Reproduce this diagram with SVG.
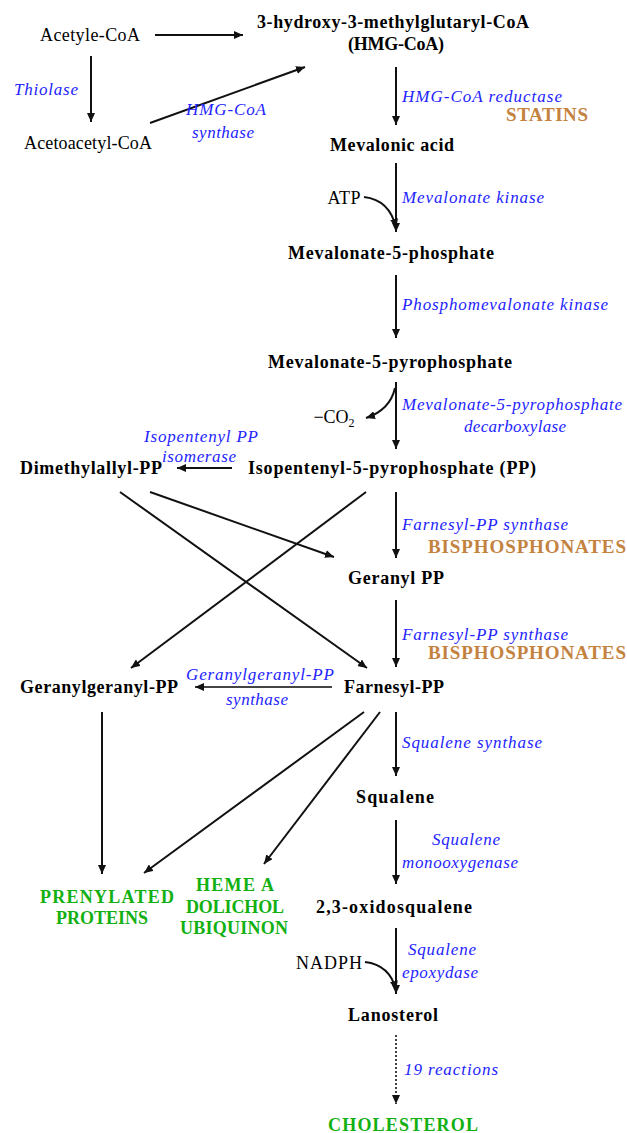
<svg xmlns="http://www.w3.org/2000/svg" width="627" height="1133" viewBox="0 0 627 1133">
<style>
text{font-family:"Liberation Serif","Times New Roman",serif;}
.n{font-size:18px;fill:#000;text-anchor:middle;}
.b{font-size:18px;font-weight:bold;fill:#000;text-anchor:middle;}
.e{font-size:17px;font-style:italic;fill:#2323ff;}
.c{text-anchor:middle;}
.s{font-size:19px;font-weight:bold;fill:#c4823f;}
.g{font-size:18px;font-weight:bold;fill:#12b012;text-anchor:middle;}
.ln{stroke:#111;stroke-width:2;fill:none;marker-end:url(#ah);}
.gr{stroke:#444;}
.dot{stroke:#444;stroke-width:2;stroke-dasharray:2,2;fill:none;marker-end:url(#ah);}
</style>
<defs>
<marker id="ah" markerUnits="userSpaceOnUse" markerWidth="10" markerHeight="8" refX="9" refY="4" orient="auto">
<path d="M0,0 L9,4 L0,8 Z" fill="#111"/>
</marker>
</defs>
<rect width="627" height="1133" fill="#fff"/>
<g id="connectors">
<line class="ln" x1="155" y1="35" x2="243" y2="35"/>
<line class="ln" x1="91" y1="56" x2="91" y2="122"/>
<line class="ln" x1="150" y1="123" x2="305" y2="67"/>
<line class="ln" x1="396" y1="67" x2="396" y2="125"/>
<line class="ln" x1="396" y1="163" x2="396" y2="232"/>
<path class="ln" d="M364,197 Q390,200 396,228"/>
<line class="ln" x1="396" y1="275" x2="396" y2="338"/>
<line class="ln" x1="396" y1="382" x2="396" y2="449"/>
<path class="ln" d="M395,388 Q390,410 366,418"/>
<line class="ln" x1="232" y1="468" x2="177" y2="468"/>
<line class="ln" x1="120" y1="492" x2="367" y2="668"/>
<line class="ln" x1="150" y1="492" x2="334" y2="557"/>
<line class="ln" x1="366" y1="492" x2="131" y2="668"/>
<line class="ln" x1="396" y1="492" x2="396" y2="558"/>
<line class="ln" x1="396" y1="600" x2="396" y2="667"/>
<line class="ln gr" x1="332" y1="687" x2="195" y2="687"/>
<line class="ln" x1="396" y1="712" x2="396" y2="776"/>
<line class="ln" x1="364" y1="712" x2="144" y2="873"/>
<line class="ln" x1="380" y1="712" x2="264" y2="864"/>
<line class="ln" x1="102" y1="712" x2="102" y2="874"/>
<line class="ln" x1="396" y1="820" x2="396" y2="884"/>
<line class="ln" x1="396" y1="928" x2="396" y2="994"/>
<path class="ln" d="M365,962 Q390,965 396,990"/>
<line class="dot" x1="396" y1="1035" x2="396" y2="1104"/>
</g>
<g id="acetylcoa"><text class="n" x="90" y="41" textLength="100">Acetyle-CoA</text></g>
<g id="hmgcoa"><text class="b" x="393" y="28" textLength="272">3-hydroxy-3-methylglutaryl-CoA</text><text class="b" x="396" y="50" textLength="96">(HMG-CoA)</text></g>
<g id="acetoacetylcoa"><text class="n" x="88" y="149" textLength="128">Acetoacetyl-CoA</text></g>
<g id="mevalonic"><text class="b" x="392" y="151" textLength="124">Mevalonic acid</text></g>
<g id="mev5p"><text class="b" x="391" y="259" textLength="206">Mevalonate-5-phosphate</text></g>
<g id="mev5pp"><text class="b" x="390" y="368" textLength="244">Mevalonate-5-pyrophosphate</text></g>
<g id="dmapp"><text class="b" x="91" y="474" textLength="142">Dimethylallyl-PP</text></g>
<g id="ipp"><text class="b" x="392" y="474" textLength="288">Isopentenyl-5-pyrophosphate (PP)</text></g>
<g id="gpp"><text class="b" x="396" y="584" textLength="96">Geranyl PP</text></g>
<g id="ggpp"><text class="b" x="99" y="693" textLength="158">Geranylgeranyl-PP</text></g>
<g id="fpp"><text class="b" x="394" y="693" textLength="100">Farnesyl-PP</text></g>
<g id="squalene"><text class="b" x="395" y="803" textLength="78">Squalene</text></g>
<g id="oxidosqualene"><text class="b" x="394" y="913" textLength="156">2,3-oxidosqualene</text></g>
<g id="lanosterol"><text class="b" x="393" y="1021" textLength="90">Lanosterol</text></g>
<g id="cholesterol"><text class="g" x="403" y="1131" textLength="150">CHOLESTEROL</text></g>
<g id="prenylated"><text class="g" x="107" y="903" textLength="134">PRENYLATED</text><text class="g" x="102" y="924" textLength="92">PROTEINS</text></g>
<g id="heme"><text class="g" x="235" y="891" textLength="78">HEME A</text><text class="g" x="235" y="913" textLength="98">DOLICHOL</text><text class="g" x="234" y="934" textLength="108">UBIQUINON</text></g>
<g id="cofactors">
<text class="n" x="344" y="204" textLength="33">ATP</text>
<text class="n" x="334" y="423">−CO<tspan font-size="12" dy="4">2</tspan></text>
<text class="n" x="329" y="969" textLength="66">NADPH</text>
</g>
<g id="enzymes">
<text class="e" x="14" y="95" textLength="64">Thiolase</text>
<text class="e c" x="226" y="115" textLength="80">HMG-CoA</text>
<text class="e c" x="223" y="138" textLength="62">synthase</text>
<text class="e" x="402" y="102" textLength="160">HMG-CoA reductase</text>
<text class="e" x="402" y="203" textLength="142">Mevalonate kinase</text>
<text class="e" x="402" y="310" textLength="206">Phosphomevalonate kinase</text>
<text class="e" x="402" y="410" textLength="220">Mevalonate-5-pyrophosphate</text>
<text class="e c" x="515" y="432" textLength="102">decarboxylase</text>
<text class="e c" x="201" y="442" textLength="114">Isopentenyl PP</text>
<text class="e c" x="199" y="462" textLength="74">isomerase</text>
<text class="e" x="402" y="530" textLength="166">Farnesyl-PP synthase</text>
<text class="e" x="402" y="640" textLength="166">Farnesyl-PP synthase</text>
<text class="e c" x="260" y="680" textLength="148">Geranylgeranyl-PP</text>
<text class="e c" x="257" y="705" textLength="62">synthase</text>
<text class="e" x="402" y="748" textLength="140">Squalene synthase</text>
<text class="e c" x="466" y="845" textLength="68">Squalene</text>
<text class="e c" x="460" y="868" textLength="116">monooxygenase</text>
<text class="e c" x="442" y="955" textLength="68">Squalene</text>
<text class="e c" x="440" y="978" textLength="76">epoxydase</text>
<text class="e" x="404" y="1075" textLength="94">19 reactions</text>
</g>
<g id="inhibitors">
<text class="s" x="506" y="121" textLength="82">STATINS</text>
<text class="s" x="428" y="553" textLength="198">BISPHOSPHONATES</text>
<text class="s" x="428" y="659" textLength="198">BISPHOSPHONATES</text>
</g>
</svg>
